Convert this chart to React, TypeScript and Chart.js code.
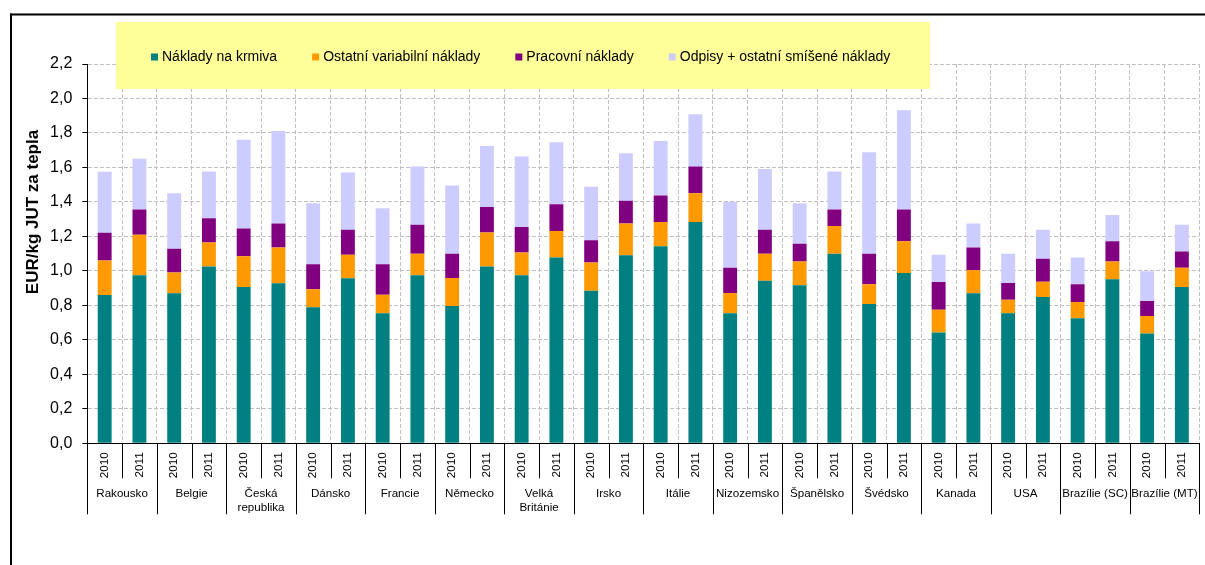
import React, { useEffect, useRef } from "react";
import { Chart, registerables } from "chart.js";

Chart.register(...registerables);

const countries: string[][] = [
  ["Rakousko"], ["Belgie"], ["Česká", "republika"], ["Dánsko"], ["Francie"], ["Německo"],
  ["Velká", "Británie"], ["Irsko"], ["Itálie"], ["Nizozemsko"], ["Španělsko"], ["Švédsko"],
  ["Kanada"], ["USA"], ["Brazílie (SC)"], ["Brazílie (MT)"],
];
const years = ["2010", "2011"];
const categories = countries.flatMap(() => years);

const seriesNames = [
  "Náklady na krmiva",
  "Ostatní variabilní náklady",
  "Pracovní náklady",
  "Odpisy + ostatní smíšené náklady",
];
const seriesColors = ["#008080", "#FF9900", "#800080", "#CCCCFF"];

const feedCosts = [0.86, 0.975, 0.87, 1.025, 0.907, 0.928, 0.789, 0.957, 0.754, 0.975, 0.797, 1.025, 0.975, 1.077, 0.885, 1.091, 1.143, 1.284, 0.754, 0.943, 0.917, 1.099, 0.808, 0.988, 0.643, 0.87, 0.754, 0.849, 0.725, 0.951, 0.637, 0.907];
const otherVariable = [0.2, 0.234, 0.12, 0.139, 0.178, 0.207, 0.104, 0.136, 0.108, 0.124, 0.162, 0.197, 0.131, 0.155, 0.163, 0.184, 0.141, 0.167, 0.118, 0.156, 0.137, 0.161, 0.114, 0.184, 0.132, 0.134, 0.079, 0.088, 0.095, 0.103, 0.101, 0.111];
const labourCosts = [0.161, 0.147, 0.138, 0.142, 0.161, 0.14, 0.146, 0.146, 0.177, 0.168, 0.14, 0.148, 0.148, 0.154, 0.13, 0.132, 0.154, 0.155, 0.146, 0.14, 0.104, 0.096, 0.177, 0.184, 0.161, 0.131, 0.097, 0.133, 0.102, 0.118, 0.088, 0.095];
const depreciation = [0.354, 0.295, 0.323, 0.271, 0.515, 0.537, 0.354, 0.331, 0.325, 0.339, 0.397, 0.355, 0.41, 0.36, 0.31, 0.275, 0.316, 0.303, 0.381, 0.352, 0.235, 0.221, 0.589, 0.576, 0.157, 0.14, 0.169, 0.169, 0.155, 0.152, 0.172, 0.154];

const yTitle = "EUR/kg JUT za tepla";
const FONT = '"Liberation Sans", Arial, sans-serif';

const decorPlugin = {
  id: "decor",
  afterDraw(chart: any) {
    const { ctx, chartArea, scales } = chart;
    const x = scales.x;
    const n = categories.length;
    const bottom = chartArea.bottom;
    ctx.save();
    // outer frame
    ctx.fillStyle = "#000";
    ctx.fillRect(10, 13.5, 1200, 2);
    ctx.fillRect(10, 13.5, 2, 560);

    // category separators
    ctx.strokeStyle = "#000";
    ctx.lineWidth = 1;
    for (let i = 0; i <= n; i++) {
      let px: number;
      if (i === 0) px = chartArea.left;
      else if (i === n) px = chartArea.right;
      else px = (x.getPixelForValue(i - 1) + x.getPixelForValue(i)) / 2;
      const len = i % 2 === 0 ? 71 : 35;
      const xx = Math.round(px) + 0.5;
      ctx.beginPath();
      ctx.moveTo(xx, bottom);
      ctx.lineTo(xx, bottom + len);
      ctx.stroke();
    }

    // country labels
    ctx.font = `11.6px ${FONT}`;
    ctx.textAlign = "center";
    ctx.textBaseline = "middle";
    ctx.fillStyle = "#000";
    countries.forEach((lines, g) => {
      const cx = (x.getPixelForValue(2 * g) + x.getPixelForValue(2 * g + 1)) / 2;
      lines.forEach((t, k) => ctx.fillText(t, cx, bottom + 50 + k * 14));
    });

    // y axis title
    ctx.save();
    ctx.translate(33, 212);
    ctx.rotate(-Math.PI / 2);
    ctx.font = `bold 17px ${FONT}`;
    ctx.textAlign = "center";
    ctx.textBaseline = "middle";
    ctx.fillText(yTitle, 0, 0);
    ctx.restore();

    // legend
    ctx.fillStyle = "#FFFF99";
    ctx.fillRect(116, 22, 814, 67);
    ctx.font = `14px ${FONT}`;
    ctx.textAlign = "left";
    ctx.textBaseline = "middle";
    let lx = 151;
    const ly = 57;
    seriesNames.forEach((name, i) => {
      ctx.fillStyle = seriesColors[i];
      ctx.fillRect(lx, ly - 3.5, 7, 7);
      ctx.fillStyle = "#000";
      ctx.fillText(name, lx + 11, ly);
      lx += 11 + ctx.measureText(name).width + 35;
    });
    ctx.restore();
  },
};

export default function App() {
  const ref = useRef<HTMLCanvasElement | null>(null);

  useEffect(() => {
    if (!ref.current) return;
    const values = [feedCosts, otherVariable, labourCosts, depreciation];
    const chart = new Chart(ref.current, {
      type: "bar",
      data: {
        labels: categories,
        datasets: seriesNames.map((name, i) => ({
          label: name,
          data: values[i],
          backgroundColor: seriesColors[i],
          borderWidth: 0,
          barPercentage: 0.4,
          categoryPercentage: 1,
        })),
      },
      options: {
        responsive: false,
        animation: false,
        layout: { padding: { top: 64, right: 5, left: 0, bottom: 0 } },
        plugins: { legend: { display: false }, tooltip: { enabled: false } },
        scales: {
          x: {
            stacked: true,
            grid: { color: "#c0c0c0", drawTicks: false, offset: true },
            border: { color: "#000", dash: [4, 2], width: 1 },
            ticks: {
              color: "#000",
              font: { family: FONT, size: 11.7 },
              minRotation: 90,
              maxRotation: 90,
              padding: 9,
              autoSkip: false,
            },
            afterFit: (s: any) => {
              s.height = 121.7;
            },
          },
          y: {
            stacked: true,
            min: 0,
            max: 2.2,
            ticks: {
              stepSize: 0.2,
              color: "#000",
              font: { family: FONT, size: 16 },
              padding: 10,
              callback: (v: any) => Number(v).toFixed(1).replace(".", ","),
            },
            grid: { color: "#c0c0c0", tickColor: "#000", tickLength: 5 },
            border: { color: "#000", dash: [4, 2], width: 1 },
            afterFit: (s: any) => {
              s.width = 87.3;
            },
          },
        },
      },
      plugins: [decorPlugin],
    });
    return () => chart.destroy();
  }, []);

  return (
    <div style={{ position: "absolute", left: 0, top: 0, width: 1205, height: 565, background: "#fff" }}>
      <canvas ref={ref} width={1205} height={565} style={{ display: "block" }} />
    </div>
  );
}
